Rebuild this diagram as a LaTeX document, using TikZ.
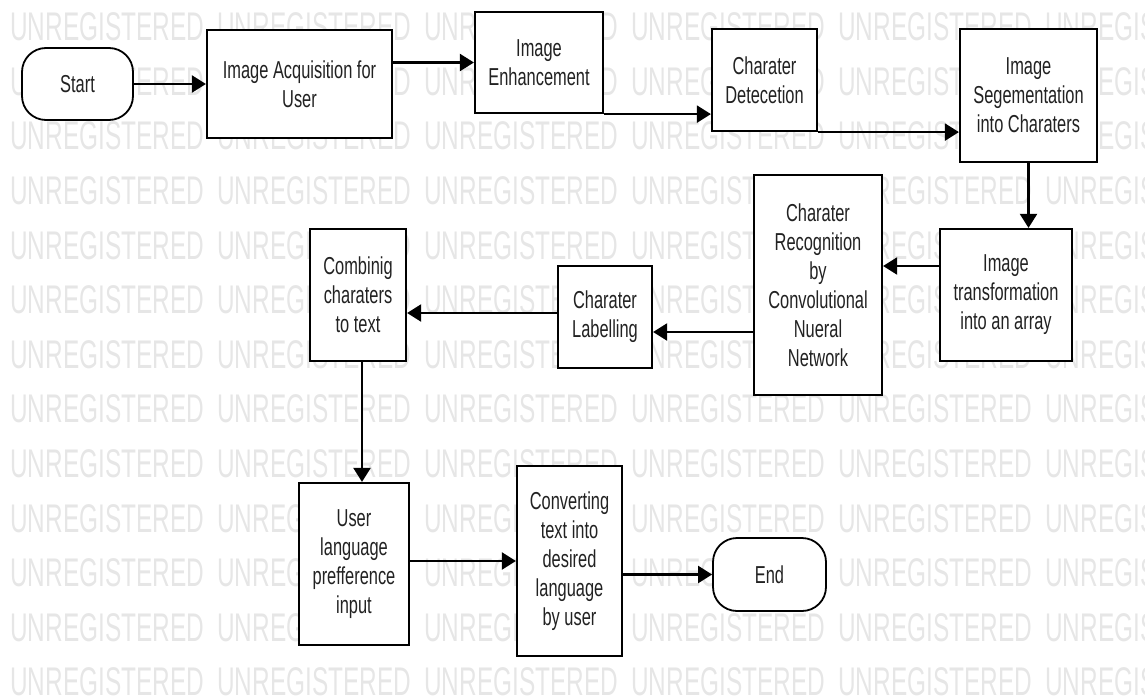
\documentclass[tikz,border=0pt]{standalone}
\usepackage{fontspec}
\setmainfont{Liberation Sans}[FakeStretch=0.67]
\newfontfamily\wmfont{Liberation Sans}[FakeStretch=0.61]
\usepackage{tikz}
\usetikzlibrary{arrows.meta,calc}
\definecolor{wmgray}{HTML}{E6E6E6}
\definecolor{textgray}{HTML}{222222}

\begin{document}
\begin{tikzpicture}[x=1pt,y=-1pt,
  block/.style={draw,fill=white,line width=2.2pt,align=center,inner sep=0pt,font=\fontsize{24.5}{29}\selectfont,text=textgray},
  terminal/.style={block,line width=1.8pt,rounded corners=24pt},
  arrow/.style={-{Triangle[length=14pt,width=17pt]},line width=2.2pt},
  wmark/.style={anchor=west,inner sep=0pt,text=wmgray,font=\wmfont\fontsize{40}{40}\selectfont}
]
  \useasboundingbox (0,0) rectangle (1145,698);
  % watermark rows
  \begin{scope}
    \clip (0,0) rectangle (1145,698);
    \foreach \r in {0,...,12}
      \foreach \c in {0,...,5}
        \node[wmark] (wm-\r-\c) at (10+207*\c,27+54.6*\r) {UNREGISTERED};
  \end{scope}

  % top row
  \node[terminal,minimum width=111pt,minimum height=72pt] (start) at (77.5,84) {Start};
  \node[block,minimum width=185pt,minimum height=108pt] (acq) at (299.5,84) {Image Acquisition for\\User};
  \node[block,minimum width=128pt,minimum height=101pt] (enh) at (539,62.5) {Image\\Enhancement};
  \node[block,minimum width=105pt,minimum height=102pt] (det) at (764.5,80) {Charater\\Detecetion};
  \node[block,minimum width=137pt,minimum height=133pt] (seg) at (1028.5,95.5) {Image\\Segementation\\into Charaters};

  % middle row
  \node[block,minimum width=132pt,minimum height=132pt] (trans) at (1006,295) {Image\\transformation\\into an array};
  \node[block,minimum width=128pt,minimum height=220pt] (cnn) at (818,285) {Charater\\Recognition\\by\\Convolutional\\Nueral\\Network};
  \node[block,minimum width=94pt,minimum height=102pt] (label) at (605,317) {Charater\\Labelling};
  \node[block,minimum width=96pt,minimum height=132pt] (comb) at (358,295) {Combinig\\charaters\\to text};

  % bottom row
  \node[block,minimum width=110pt,minimum height=162pt] (user) at (354,564) {User\\language\\prefference\\input};
  \node[block,minimum width=105pt,minimum height=190pt] (conv) at (569.5,561) {Converting\\text into\\desired\\language\\by user};
  \node[terminal,minimum width=113pt,minimum height=73pt] (finish) at (769.5,574.5) {End};

  \draw[arrow] (start) -- (acq);
  \draw[arrow] (enh.west -| acq.east) -- (enh.west);
  \draw[arrow] (enh.south east) -- (enh.south east -| det.west);
  \draw[arrow] (det.south east) -- (det.south east -| seg.west);
  \draw[arrow] (seg.south) -- (seg.south |- trans.north);
  \draw[arrow] ([yshift=29pt]trans.west) -- ([yshift=29pt]trans.west -| cnn.east);
  \draw[arrow] ([yshift=-47pt]cnn.west) -- ([yshift=-47pt]cnn.west -| label.east);
  \draw[arrow] ([yshift=4pt]label.west) -- ([yshift=4pt]label.west -| comb.east);
  \draw[arrow] ([xshift=4pt]comb.south) -- ([xshift=4pt]comb.south |- user.north);
  \draw[arrow] (conv.west -| user.east) -- (conv.west);
  \draw[arrow] (finish.west -| conv.east) -- (finish.west);
\end{tikzpicture}
\end{document}
